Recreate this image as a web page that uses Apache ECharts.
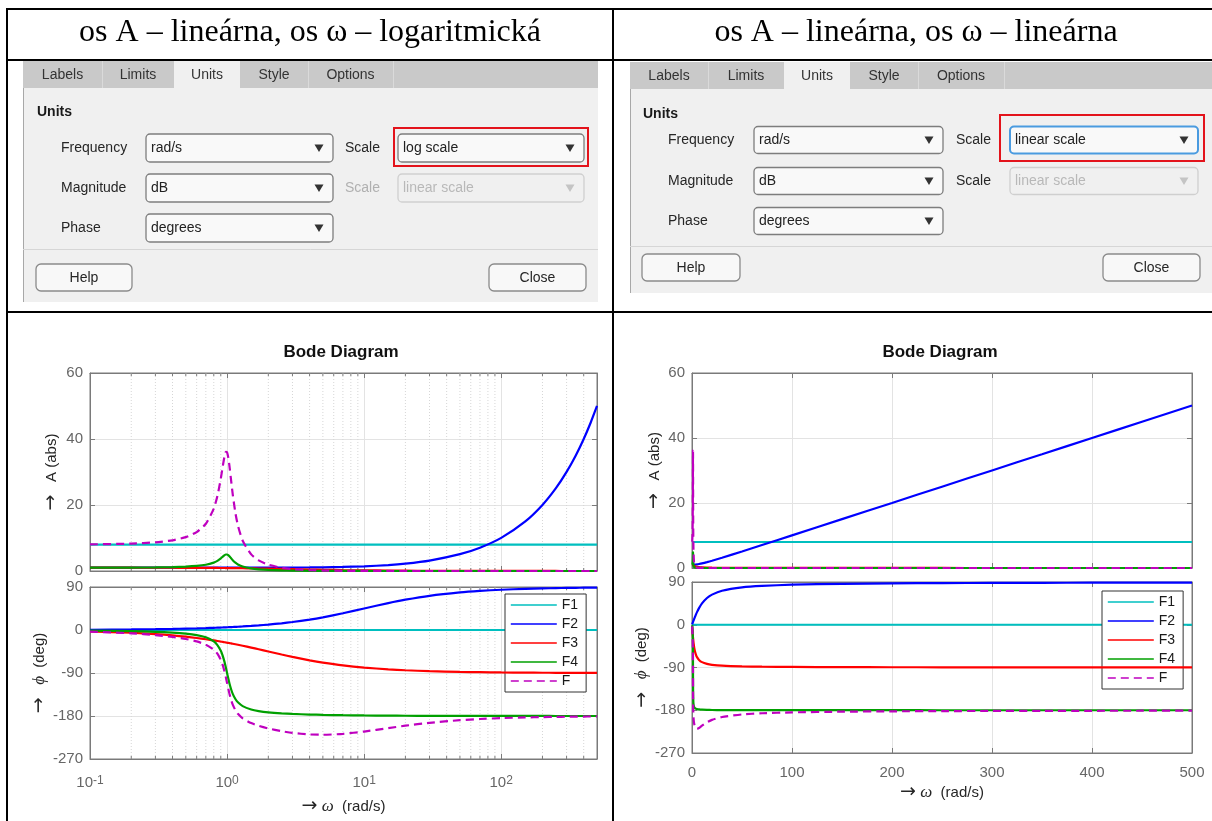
<!DOCTYPE html>
<html>
<head>
<meta charset="utf-8">
<script src="https://cdn.jsdelivr.net/npm/echarts@6/dist/echarts.min.js"></script>
<style>html,body{margin:0;padding:0;background:#fff}#c{width:1212px;height:821px}</style>
</head>
<body>
<div id="c"></div>
<script>
// ---------- texts ----------
const headers = ['os A – lineárna, os ω – logaritmická', 'os A – lineárna, os ω – lineárna'];
const tabNames = ['Labels', 'Limits', 'Units', 'Style', 'Options'];
const rowLabels = ['Frequency', 'Magnitude', 'Phase'];
const rowValues = ['rad/s', 'dB', 'degrees'];
const freqScale = ['log scale', 'linear scale'];
const magScale = 'linear scale';
const seriesNames = ['F1', 'F2', 'F3', 'F4', 'F'];
const plotTitle = 'Bode Diagram';

// ---------- data ----------
const omega = [0.1,0.2,0.3,0.4,0.5,0.6,0.7,0.8,0.85,0.9,0.93,0.96,0.98,1,1.02,1.04,1.07,1.1,1.15,1.2,1.3,1.5,1.7,2,2.5,3,4,5,7,10,15,20,30,50,70,100,150,200,250,300,350,400,450,500];
const f1Mag = [8,8,8,8,8,8,8,8,8,8,8,8,8,8,8,8,8,8,8,8,8,8,8,8,8,8,8,8,8,8,8,8,8,8,8,8,8,8,8,8,8,8,8,8];
const f2Mag = [1.000,1.000,1.000,1.001,1.001,1.002,1.002,1.003,1.004,1.004,1.004,1.005,1.005,1.005,1.005,1.005,1.006,1.006,1.007,1.007,1.008,1.011,1.014,1.020,1.031,1.044,1.077,1.118,1.221,1.414,1.803,2.236,3.162,5.099,7.071,10.05,15.03,20.02,25.02,30.02,35.01,40.01,45.01,50.01];
const f3Mag = [0.999,0.995,0.989,0.981,0.970,0.958,0.944,0.928,0.920,0.912,0.907,0.902,0.898,0.894,0.891,0.887,0.882,0.876,0.867,0.857,0.838,0.800,0.762,0.707,0.625,0.555,0.447,0.371,0.275,0.196,0.132,0.0995,0.0665,0.040,0.0286,0.020,0.0133,0.010,0.008,0.0067,0.0057,0.005,0.0044,0.004];
const f4Mag = [1.010,1.041,1.097,1.185,1.322,1.536,1.891,2.538,3.073,3.821,4.350,4.822,5.001,5.000,4.809,4.476,3.869,3.288,2.525,1.995,1.356,0.778,0.521,0.330,0.190,0.125,0.0666,0.0416,0.0208,0.0101,0.0045,0.0025,0.0011,0.0004,0.0002,0.0001,0,0,0,0,0,0,0,0];
const fMag = [8.069,8.287,8.679,9.304,10.270,11.789,14.312,18.915,22.705,27.987,31.691,34.936,36.099,35.956,34.448,31.938,27.450,23.187,17.623,13.785,9.173,5.034,3.220,1.906,0.977,0.578,0.256,0.138,0.056,0.022,0.0085,0.0045,0.0019,0.0007,0.0004,0.0002,0.0001,0.0001,0,0,0,0,0,0];
const f1Phase = [0,0,0,0,0,0,0,0,0,0,0,0,0,0,0,0,0,0,0,0,0,0,0,0,0,0,0,0,0,0,0,0,0,0,0,0,0,0,0,0,0,0,0,0];
const f2Phase = [0.57,1.15,1.72,2.29,2.86,3.43,4.00,4.57,4.86,5.14,5.31,5.48,5.60,5.71,5.82,5.94,6.11,6.28,6.56,6.84,7.41,8.53,9.65,11.31,14.04,16.70,21.80,26.57,34.99,45.00,56.31,63.43,71.57,78.69,81.87,84.29,86.19,87.14,87.71,88.09,88.36,88.57,88.73,88.85];
const f3Phase = [-2.86,-5.71,-8.53,-11.31,-14.04,-16.70,-19.29,-21.80,-23.03,-24.23,-24.94,-25.64,-26.10,-26.57,-27.02,-27.47,-28.15,-28.81,-29.90,-30.96,-33.02,-36.87,-40.36,-45.00,-51.34,-56.31,-63.43,-68.20,-74.05,-78.69,-82.41,-84.29,-86.19,-87.71,-88.36,-88.85,-89.24,-89.43,-89.54,-89.62,-89.67,-89.71,-89.75,-89.77];
const f4Phase = [-1.16,-2.39,-3.77,-5.44,-7.59,-10.62,-15.35,-23.96,-31.49,-43.45,-54.02,-67.79,-78.58,-90.00,-101.20,-111.42,-124.09,-133.64,-144.51,-151.39,-159.34,-166.50,-169.80,-172.41,-174.56,-175.71,-176.95,-177.61,-178.33,-178.84,-179.23,-179.43,-179.62,-179.77,-179.84,-179.89,-179.92,-179.94,-179.95,-179.96,-179.97,-179.97,-179.98,-179.98];
const fPhase = [-3.45,-6.95,-10.59,-14.46,-18.77,-23.89,-30.64,-41.19,-49.66,-62.54,-73.64,-87.95,-99.08,-110.85,-122.39,-132.96,-146.13,-156.17,-167.85,-175.51,-184.96,-194.84,-200.52,-206.10,-211.86,-215.32,-218.58,-219.25,-217.39,-212.53,-205.33,-200.28,-194.24,-188.79,-186.33,-184.45,-182.97,-182.23,-181.79,-181.49,-181.28,-181.12,-180.99,-180.89];
const minorOmega = [0.2,0.3,0.4,0.5,0.6,0.7,0.8,0.9,2,3,4,5,6,7,8,9,20,30,40,50,60,70,80,90,200,300,400];
const magTicks = {min: 0, max: 60, interval: 20};
const phaseTicks = {min: -270, max: 90, interval: 90};
const linTicks = {min: 0, max: 500, interval: 100};
const logRange = {min: 0.1, max: 500};

// ---------- styles ----------
const SANS = '"Liberation Sans", Arial, Helvetica, sans-serif';
const SERIF = '"Liberation Serif", "Times New Roman", serif';
const colors = ['#00bfbf', '#0000ff', '#ff0000', '#00a000', '#bf00bf'];
const TICKC = '#666666', BOXC = '#7a7a7a', GRIDC = '#e3e3e3', TXT = '#262626';

const magSets = [f1Mag, f2Mag, f3Mag, f4Mag, fMag];
const phaseSets = [f1Phase, f2Phase, f3Phase, f4Phase, fPhase];

// ---------- graphic helpers ----------
const G = [];
function rect(x, y, w, h, style, r) { G.push({type: 'rect', silent: true, shape: {x, y, width: w, height: h, r: r || 0}, style}); }
function line(x1, y1, x2, y2, stroke, lw) { G.push({type: 'line', silent: true, shape: {x1, y1, x2, y2}, style: {stroke, lineWidth: lw}}); }
function txt(x, y, text, o) {
  o = o || {};
  G.push({type: 'text', silent: true, x, y, style: {
    text, fill: o.fill || TXT, fontSize: o.fontSize || 14, fontFamily: o.fontFamily || SANS,
    fontWeight: o.fontWeight || 'normal', align: o.align || 'left', textAlign: o.align || 'left',
    verticalAlign: 'middle', textVerticalAlign: 'middle'}});
}
function tri(cx, cy, fill) { G.push({type: 'polygon', silent: true, shape: {points: [[cx - 4.5, cy - 3.5], [cx + 4.5, cy - 3.5], [cx, cy + 4]]}, style: {fill}}); }
function dropdown(x, y, w, h, value, mode) {
  const dis = mode === 'disabled', foc = mode === 'focus';
  rect(x, y, w, h, {fill: dis ? '#f0f0f0' : '#f9f9f9', stroke: foc ? '#4a9be0' : (dis ? '#cfcfcf' : '#7d7d7d'), lineWidth: foc ? 2 : 1.3}, 4);
  txt(x + 5, y + h / 2, value, {fill: dis ? '#b8b8b8' : '#222'});
  tri(x + w - 14, y + h / 2, dis ? '#c4c4c4' : '#333');
}
function button(x, y, w, h, label) {
  rect(x, y, w, h, {fill: '#f8f8f8', stroke: '#8a8a8a', lineWidth: 1.3}, 5);
  txt(x + w / 2, y + h / 2 + 1, label, {align: 'center'});
}
function dialog(D) {
  rect(D.x, D.y, D.w, D.h, {fill: '#f0f0f0'});
  rect(D.x, D.y, D.w, D.tabH, {fill: '#c9c9c9'});
  const b = D.tabs;
  rect(b[2], D.y, b[3] - b[2], D.tabH + 1, {fill: '#f0f0f0'});
  [1, 4, 5].forEach(i => line(b[i] + 0.5, D.y, b[i] + 0.5, D.y + D.tabH, '#dadada', 1));
  tabNames.forEach((t, i) => txt((b[i] + b[i + 1]) / 2, D.y + D.tabH / 2 + 1, t, {align: 'center', fill: '#333'}));
  line(D.x + 0.5, D.y + D.tabH, D.x + 0.5, D.y + D.h, '#a8a8a8', 1);
  line(D.x, D.sepY + 0.5, D.x + D.w, D.sepY + 0.5, '#d6d6d6', 1);
  txt(D.unitsX, D.unitsY, 'Units', {fontWeight: 'bold', fill: '#1a1a1a'});
  rowLabels.forEach((lab, i) => {
    const cy = D.rows[i];
    txt(D.labX, cy, lab);
    dropdown(D.ddX, cy - D.ddH / 2, D.ddW, D.ddH, rowValues[i], 'normal');
  });
  txt(D.scX, D.rows[0], 'Scale');
  txt(D.scX, D.rows[1], 'Scale', {fill: D.magScaleDim ? '#b0b0b0' : TXT});
  dropdown(D.dd2X, D.rows[0] - D.ddH / 2, D.dd2W, D.ddH, D.freqScale, D.focus ? 'focus' : 'normal');
  dropdown(D.dd2X, D.rows[1] - D.ddH / 2, D.dd2W, D.ddH, magScale, 'disabled');
  rect(D.red[0], D.red[1], D.red[2], D.red[3], {fill: 'none', stroke: '#e3131b', lineWidth: 2});
  button(D.help[0], D.help[1], D.help[2], D.help[3], 'Help');
  button(D.close[0], D.close[1], D.close[2], D.close[3], 'Close');
}

// dialogs
dialog({x: 23, y: 61, w: 575, h: 241, tabH: 27, tabs: [23, 102, 174, 240, 308, 393, 598],
  sepY: 249, unitsX: 37, unitsY: 112, rows: [148, 188, 228], labX: 61,
  ddX: 146, ddW: 187, ddH: 28, scX: 345, dd2X: 398, dd2W: 186,
  freqScale: freqScale[0], focus: false, magScaleDim: true,
  red: [394, 128, 194, 38], help: [36, 264, 96, 27], close: [489, 264, 97, 27]});
dialog({x: 630, y: 62, w: 582, h: 231, tabH: 27, tabs: [630, 708, 784, 850, 918, 1004, 1212],
  sepY: 246, unitsX: 643, unitsY: 114, rows: [140, 181, 221], labX: 668,
  ddX: 754, ddW: 189, ddH: 27, scX: 956, dd2X: 1010, dd2W: 188,
  freqScale: freqScale[1], focus: true, magScaleDim: false,
  red: [1000, 115, 204, 46], help: [642, 254, 98, 27], close: [1103, 254, 97, 27]});

// table
txt(310, 33, headers[0], {fontFamily: SERIF, fontSize: 32, align: 'center', fill: '#000'});
txt(916, 33, headers[1], {fontFamily: SERIF, fontSize: 32, align: 'center', fill: '#000'});
line(6, 9, 1212, 9, '#000', 2);
line(6, 60, 1212, 60, '#000', 2);
line(6, 312, 1212, 312, '#000', 2);
line(7, 8, 7, 821, '#000', 2);
line(613, 8, 613, 821, '#000', 2);
// titles
txt(341, 352, plotTitle, {fontWeight: 'bold', fontSize: 17, align: 'center', fill: '#111'});
txt(940, 352, plotTitle, {fontWeight: 'bold', fontSize: 17, align: 'center', fill: '#111'});

// ---------- charts ----------
const grids = [
  {left: 90, top: 373, width: 507, height: 198},   // log magnitude
  {left: 90, top: 587, width: 507, height: 172},   // log phase
  {left: 692, top: 373, width: 500, height: 195},  // linear magnitude
  {left: 692, top: 582, width: 500, height: 171}   // linear phase
];
const isLog = [true, true, false, false];
const isPhase = [false, true, false, true];
const yNameGap = [29, 41, 28, 40];
const xNameGap = [0, 38, 0, 30];

function logLabel(v) {
  const e = Math.round(Math.log10(v));
  if (Math.abs(v / Math.pow(10, e) - 1) > 1e-6) return '';
  return '10{s|' + e + '}';
}
const nameRich = {
  i: {fontStyle: 'italic', fontFamily: SERIF, fontSize: 17, color: TXT},
  a: {fontFamily: '"DejaVu Sans", sans-serif', fontSize: 19, color: TXT}
};

const xAxis = [], yAxis = [], series = [];
grids.forEach((g, gi) => {
  const lg = isLog[gi], ph = isPhase[gi];
  const xr = lg ? {type: 'log', logBase: 10, min: logRange.min, max: logRange.max}
                : {type: 'value', min: linTicks.min, max: linTicks.max, interval: linTicks.interval};
  const yr = ph ? phaseTicks : magTicks;
  const tick = {show: true, inside: true, length: 5, lineStyle: {color: BOXC}};
  xAxis.push(Object.assign({}, xr, {
    gridIndex: gi, position: 'bottom',
    axisLine: {show: true, onZero: false, lineStyle: {color: BOXC}}, axisTick: tick,
    splitLine: {show: true, lineStyle: {color: GRIDC}},
    axisLabel: {show: ph, color: TICKC, fontSize: 15, margin: lg ? 16 : 12, fontFamily: SANS,
      formatter: lg ? logLabel : undefined, showMaxLabel: lg ? false : true,
      rich: {s: {fontSize: 12, color: TICKC, verticalAlign: 'top', lineHeight: 12, fontFamily: SANS}}},
    name: ph ? '{a|→} {i|ω}  (rad/s)' : '', nameLocation: 'middle', nameGap: xNameGap[gi],
    nameTextStyle: {color: TXT, fontSize: 15, fontFamily: SANS, rich: nameRich}
  }));
  xAxis.push(Object.assign({}, xr, {
    gridIndex: gi, position: 'top',
    axisLine: {show: true, onZero: false, lineStyle: {color: BOXC}}, axisTick: tick,
    splitLine: {show: false}, axisLabel: {show: false}
  }));
  yAxis.push({type: 'value', gridIndex: gi, position: 'left', min: yr.min, max: yr.max, interval: yr.interval,
    axisLine: {show: true, onZero: false, lineStyle: {color: BOXC}}, axisTick: tick,
    splitLine: {show: true, lineStyle: {color: GRIDC}},
    axisLabel: {color: TICKC, fontSize: 15, margin: 7, fontFamily: SANS},
    name: ph ? '{a|→}   {i|ϕ}  (deg)' : '{a|→}   A (abs)', nameLocation: 'middle', nameRotate: 90, nameGap: yNameGap[gi],
    nameTextStyle: {color: TXT, fontSize: 15, fontFamily: SANS, rich: nameRich}
  });
  yAxis.push({type: 'value', gridIndex: gi, position: 'right', min: yr.min, max: yr.max, interval: yr.interval,
    axisLine: {show: true, onZero: false, lineStyle: {color: BOXC}}, axisTick: tick,
    splitLine: {show: false}, axisLabel: {show: false}});

  if (lg) {
    series.push({type: 'custom', xAxisIndex: gi * 2, yAxisIndex: gi * 2, silent: true, z: 1,
      data: minorOmega.map(v => [v, yr.min]),
      renderItem: (params, api) => {
        const x = api.coord([api.value(0), yr.min])[0];
        const cs = params.coordSys;
        return {type: 'group', children: [
          {type: 'line', shape: {x1: x, y1: cs.y, x2: x, y2: cs.y + cs.height}, style: {stroke: '#d6d6d6', lineWidth: 1, lineDash: [1, 2]}},
          {type: 'line', shape: {x1: x, y1: cs.y + cs.height, x2: x, y2: cs.y + cs.height - 3}, style: {stroke: BOXC, lineWidth: 1}},
          {type: 'line', shape: {x1: x, y1: cs.y, x2: x, y2: cs.y + 3}, style: {stroke: BOXC, lineWidth: 1}}
        ]};
      }});
  }
  const sets = ph ? phaseSets : magSets;
  seriesNames.forEach((nm, k) => {
    series.push({type: 'line', name: nm, xAxisIndex: gi * 2, yAxisIndex: gi * 2,
      data: omega.map((w, i) => [w, sets[k][i]]),
      symbol: 'none', smooth: 0.2, clip: true, z: 3 + k,
      lineStyle: {color: colors[k], width: 2.2, type: k === 4 ? [8, 5] : 'solid'},
      itemStyle: {color: colors[k]}});
  });
});

function legendAt(left, top) {
  return {data: seriesNames, orient: 'vertical', left, top, selectedMode: false,
    itemWidth: 46, itemHeight: 14, itemGap: 5, padding: [4, 8, 4, 5],
    backgroundColor: '#fff', borderColor: '#333', borderWidth: 1, borderRadius: 0,
    lineStyle: {width: 1.6},
    itemStyle: {opacity: 0, borderWidth: 0},
    textStyle: {fontSize: 14, color: '#1a1a1a', fontFamily: SANS}};
}

const chart = echarts.init(document.getElementById('c'), null, {renderer: 'canvas', width: 1212, height: 821});
chart.setOption({
  animation: false,
  backgroundColor: '#fff',
  textStyle: {fontFamily: SANS},
  grid: grids.map(g => Object.assign({show: true, borderColor: BOXC, borderWidth: 1, backgroundColor: '#fff', containLabel: false, outerBoundsMode: 'none'}, g)),
  xAxis, yAxis, series,
  legend: [legendAt(505, 594), legendAt(1102, 591)],
  graphic: {elements: G}
});
</script>
</body>
</html>
